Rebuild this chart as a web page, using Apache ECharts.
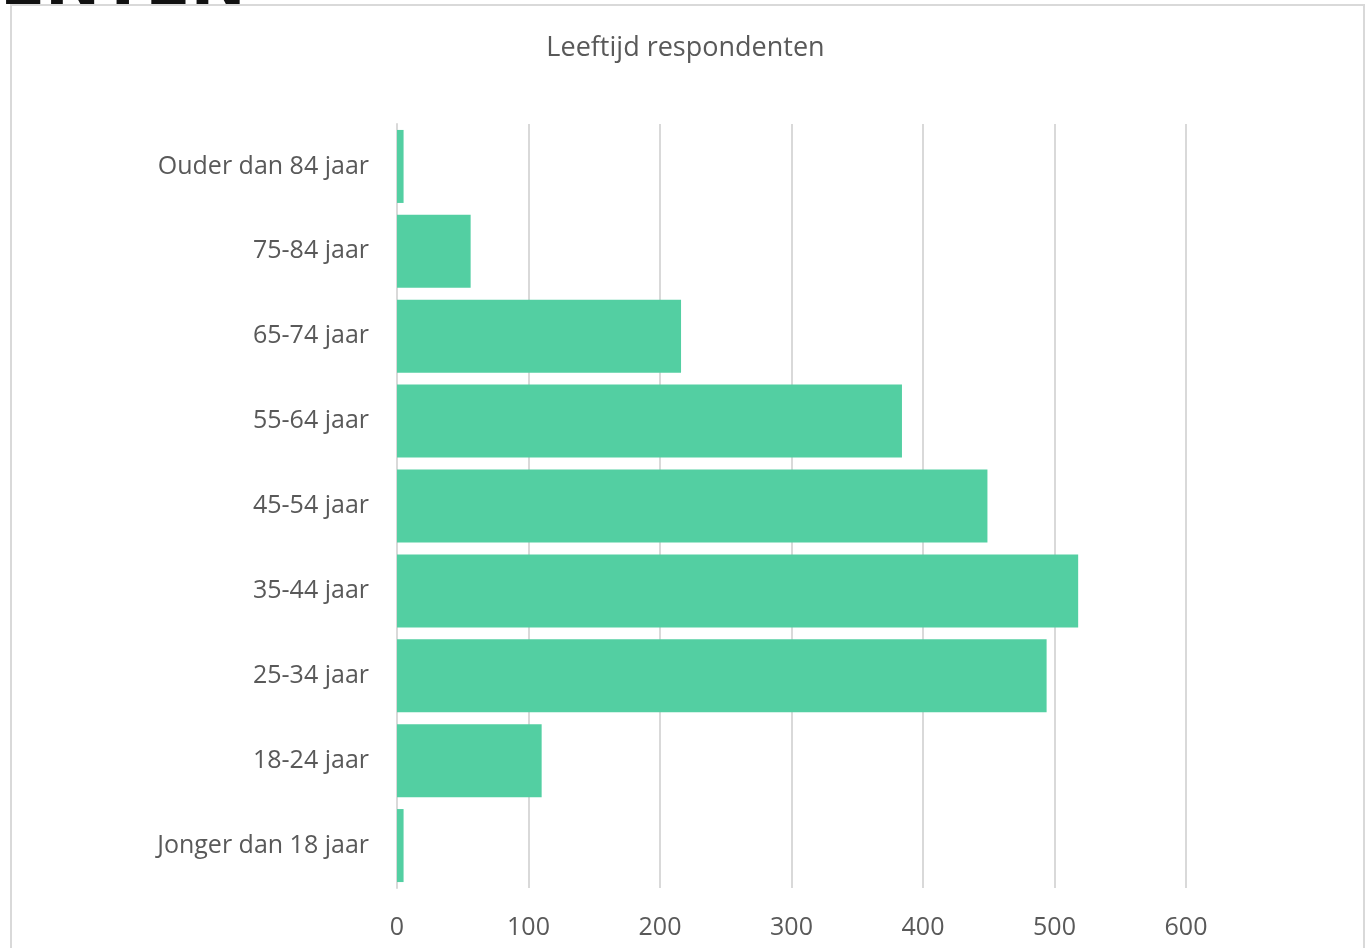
<!DOCTYPE html>
<html>
<head>
<meta charset="utf-8">
<script src="https://cdn.jsdelivr.net/npm/echarts@6/dist/echarts.min.js"></script>
<style>
html,body{margin:0;padding:0;background:#fff;}
#chart{width:1371px;height:948px;}
</style>
</head>
<body>
<div id="chart"></div>
<script>
const categories = ['Jonger dan 18 jaar','18-24 jaar','25-34 jaar','35-44 jaar','45-54 jaar','55-64 jaar','65-74 jaar','75-84 jaar','Ouder dan 84 jaar'];
const values = [5, 110, 494, 518, 449, 384, 216, 56, 5];
const xTicks = [0, 100, 200, 300, 400, 500, 600];

const chart = echarts.init(document.getElementById('chart'));
const font = '"Open Sans", "Noto Sans", sans-serif';
chart.setOption({
  backgroundColor: '#ffffff',
  animation: false,
  title: [{
    text: 'Leeftijd respondenten',
    left: 'center',
    top: 30,
    textStyle: {color: '#595959', fontSize: 27, fontWeight: 'normal', fontFamily: font}
  }, {
    text: 'ENTEN',
    left: 0,
    top: -46,
    padding: 0,
    textStyle: {color: '#111111', fontSize: 66, fontWeight: 'bold', fontFamily: '"DejaVu Sans", sans-serif'}
  }],
  graphic: [
    {type: 'rect', shape: {x: 11, y: 5, width: 1353, height: 960}, style: {fill: 'none', stroke: '#d9d9d9', lineWidth: 2}, z: -1}
  ],
  grid: {left: 397, right: 185, top: 124, bottom: 60, containLabel: false},
  xAxis: {
    type: 'value',
    min: xTicks[0],
    max: xTicks[xTicks.length - 1],
    interval: 100,
    axisLine: {show: false},
    axisTick: {show: false},
    splitLine: {lineStyle: {color: '#d9d9d9', width: 2}},
    axisLabel: {color: '#595959', fontSize: 25, fontFamily: font, margin: 27}
  },
  yAxis: {
    type: 'category',
    data: categories,
    axisLine: {show: true, lineStyle: {color: '#d9d9d9', width: 2}},
    axisTick: {show: false},
    axisLabel: {color: '#595959', fontSize: 25, fontFamily: font, margin: 28, lineHeight: 30, verticalAlign: 'middle', padding: [5, 0, 0, 0]}
  },
  series: [{
    type: 'bar',
    data: values,
    barCategoryGap: '14%',
    itemStyle: {color: '#53cfa2'}
  }]
});
</script>
</body>
</html>
